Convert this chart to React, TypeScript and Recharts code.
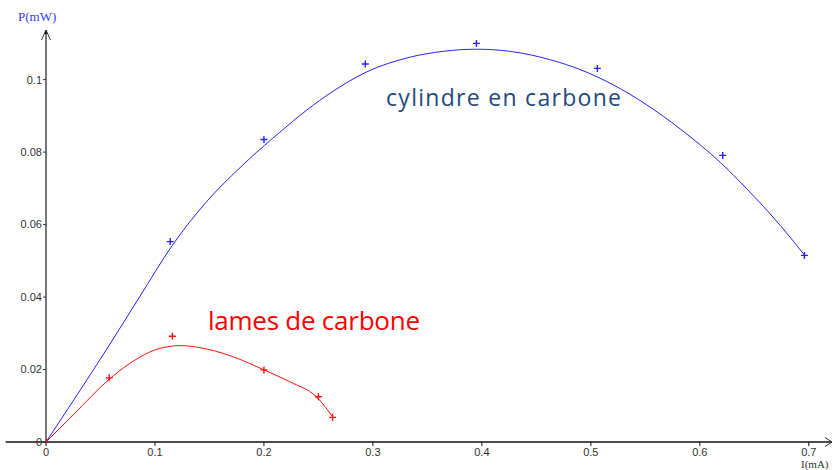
import {
  ComposedChart,
  Line,
  Scatter,
  XAxis,
  YAxis,
  ReferenceDot,
  ReferenceLine,
} from "recharts";

// axes
const X_MIN = -0.037;
const X_MAX = 0.7213;
const Y_MAX = 0.1137;
const xTicks = [0, 0.1, 0.2, 0.3, 0.4, 0.5, 0.6, 0.7];
const yTicks = [0, 0.02, 0.04, 0.06, 0.08, 0.1];

// measured points (I in mA, P in mW)
const cylindrePoints = [
  { x: 0, y: 0 },
  { x: 0.114, y: 0.0553 },
  { x: 0.2, y: 0.0835 },
  { x: 0.293, y: 0.1043 },
  { x: 0.395, y: 0.11 },
  { x: 0.506, y: 0.1031 },
  { x: 0.621, y: 0.0791 },
  { x: 0.696, y: 0.0515 },
];

const lamesPoints = [
  { x: 0, y: 0 },
  { x: 0.058, y: 0.0177 },
  { x: 0.116, y: 0.0292 },
  { x: 0.2, y: 0.0199 },
  { x: 0.25, y: 0.0125 },
  { x: 0.263, y: 0.0068 },
];

// fitted curves
const cylindreCurve = [
  { x: 0, y: 0 },
  { x: 0.058, y: 0.0267 },
  { x: 0.086, y: 0.0401 },
  { x: 0.116, y: 0.0543 },
  { x: 0.147, y: 0.0662 },
  { x: 0.178, y: 0.0757 },
  { x: 0.208, y: 0.0838 },
  { x: 0.257, y: 0.0955 },
  { x: 0.294, y: 0.1021 },
  { x: 0.334, y: 0.1062 },
  { x: 0.364, y: 0.1078 },
  { x: 0.395, y: 0.1084 },
  { x: 0.426, y: 0.1078 },
  { x: 0.465, y: 0.1053 },
  { x: 0.49, y: 0.1028 },
  { x: 0.521, y: 0.0985 },
  { x: 0.551, y: 0.0931 },
  { x: 0.582, y: 0.0864 },
  { x: 0.619, y: 0.0771 },
  { x: 0.643, y: 0.0699 },
  { x: 0.674, y: 0.0597 },
  { x: 0.696, y: 0.0516 },
];

const lamesCurve = [
  { x: 0, y: 0 },
  { x: 0.025, y: 0.0075 },
  { x: 0.058, y: 0.0173 },
  { x: 0.086, y: 0.0234 },
  { x: 0.104, y: 0.0258 },
  { x: 0.124, y: 0.0266 },
  { x: 0.147, y: 0.0257 },
  { x: 0.178, y: 0.0228 },
  { x: 0.2, y: 0.0199 },
  { x: 0.224, y: 0.0166 },
  { x: 0.248, y: 0.0125 },
  { x: 0.263, y: 0.007 },
];

const BLUE = "#2424ff";
const RED = "#ff1010";
const TICK = { fontSize: 11, fill: "#333", fontFamily: "Liberation Sans, Arial, sans-serif" };

function cross(color: string) {
  return (props: any) => {
    const { cx, cy } = props;
    return (
      <path
        d={`M${cx - 3.5},${cy}H${cx + 3.5}M${cx},${cy - 3.5}V${cy + 3.5}`}
        stroke={color}
        strokeWidth={1.4}
      />
    );
  };
}

function YArrow(props: any) {
  const { cx, cy } = props;
  return (
    <g>
      <path d={`M${cx - 4.5},${cy + 10}L${cx},${cy}L${cx + 4.5},${cy + 10}`} stroke="#333" fill="none" strokeWidth={1} />
      <path d={`M${cx - 1.5},${cy + 4}L${cx},${cy}L${cx + 1.5},${cy + 4}Z`} fill="#111" />
      <text x={cx - 28} y={cy - 9} fontSize={13} fill="#3a3aff" fontFamily="Liberation Serif, Times New Roman, serif">
        P(mW)
      </text>
    </g>
  );
}

function XArrow(props: any) {
  const { cx, cy } = props;
  return (
    <g>
      <path d={`M${cx - 7},${cy - 4.5}L${cx},${cy}L${cx - 7},${cy + 4.5}`} stroke="#333" fill="none" strokeWidth={1} />
      <text x={cx - 31} y={cy + 25.5} fontSize={11} fill="#333" fontFamily="Liberation Serif, Times New Roman, serif">
        I(mA)
      </text>
    </g>
  );
}

export default function App() {
  return (
    <div style={{ position: "absolute", left: 0, top: 0, width: 834, height: 470, background: "#fff" }}>
      <ComposedChart width={834} height={470} margin={{ top: 30, right: 2, bottom: 0, left: 0 }}>
        <XAxis
          dataKey="x"
          type="number"
          domain={[0, X_MAX]}
          ticks={xTicks}
          interval={0}
          allowDataOverflow
          height={28}
          tickSize={4}
          tickMargin={2}
          axisLine={{ stroke: "#111", strokeWidth: 1.3 }}
          tickLine={{ stroke: "#111" }}
          tick={TICK}
        />
        <YAxis
          type="number"
          domain={[0, Y_MAX]}
          ticks={yTicks}
          interval={0}
          allowDataOverflow
          width={46}
          tickSize={3}
          tickMargin={1}
          axisLine={{ stroke: "#555", strokeWidth: 1.6 }}
          tickLine={{ stroke: "#333" }}
          tick={TICK}
        />
        <ReferenceLine
          segment={[{ x: X_MIN, y: 0 }, { x: 0, y: 0 }]}
          ifOverflow="visible"
          stroke="#111"
          strokeWidth={1.3}
        />
        <Line data={cylindreCurve} dataKey="y" type="monotone" stroke={BLUE} strokeWidth={1} dot={false} isAnimationActive={false} />
        <Line data={lamesCurve} dataKey="y" type="monotone" stroke={RED} strokeWidth={1} dot={false} isAnimationActive={false} />
        <Scatter data={cylindrePoints} dataKey="y" shape={cross(BLUE)} isAnimationActive={false} />
        <Scatter data={lamesPoints} dataKey="y" shape={cross(RED)} isAnimationActive={false} />
        <ReferenceDot x={0} y={Y_MAX} r={0} ifOverflow="visible" shape={YArrow} />
        <ReferenceDot x={X_MAX} y={0} r={0} ifOverflow="visible" shape={XArrow} />
      </ComposedChart>
      <svg width={834} height={470} style={{ position: "absolute", left: 0, top: 0, pointerEvents: "none" }}>
        <text x={386} y={106} fontSize={23} fill="#1f497d" fontFamily="Open Sans, sans-serif" textLength={235}>
          cylindre en carbone
        </text>
        <text x={208} y={330} fontSize={26} fill="#ff0000" fontFamily="Open Sans, sans-serif" textLength={212}>
          lames de carbone
        </text>
      </svg>
    </div>
  );
}
